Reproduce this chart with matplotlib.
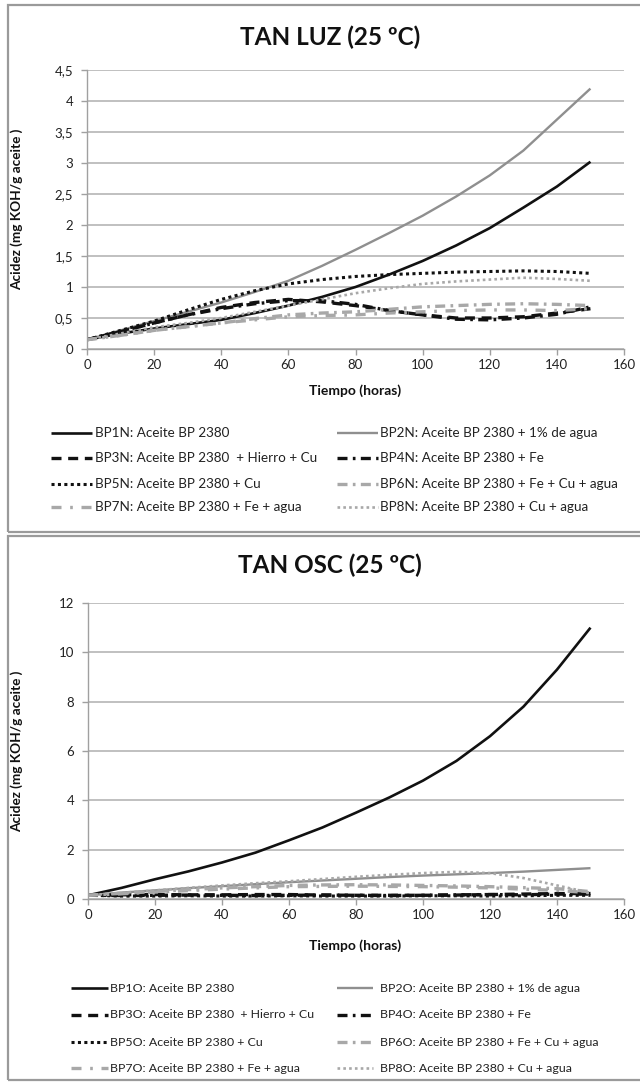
import matplotlib
matplotlib.use("Agg")
import matplotlib.pyplot as plt
from matplotlib.lines import Line2D
from matplotlib.patches import Rectangle

plt.rcParams['font.family'] = ['Lato', 'DejaVu Sans']

# Time axis (hours)
horas = [0, 10, 20, 30, 40, 50, 60, 70, 80, 90, 100, 110, 120, 130, 140, 150]

# TAN under light (mg KOH/g)
bp1n = [0.15, 0.25, 0.33, 0.40, 0.47, 0.58, 0.70, 0.84, 1.00, 1.20, 1.42, 1.67, 1.95, 2.28, 2.62, 3.02]
bp2n = [0.15, 0.30, 0.45, 0.60, 0.75, 0.92, 1.10, 1.34, 1.60, 1.87, 2.15, 2.46, 2.80, 3.20, 3.70, 4.20]
bp3n = [0.15, 0.28, 0.42, 0.55, 0.67, 0.75, 0.80, 0.76, 0.70, 0.62, 0.55, 0.50, 0.50, 0.52, 0.58, 0.65]
bp4n = [0.15, 0.28, 0.42, 0.55, 0.65, 0.73, 0.78, 0.78, 0.72, 0.62, 0.55, 0.48, 0.47, 0.50, 0.56, 0.68]
bp5n = [0.15, 0.30, 0.45, 0.63, 0.80, 0.94, 1.05, 1.12, 1.17, 1.20, 1.22, 1.24, 1.25, 1.26, 1.25, 1.22]
bp6n = [0.15, 0.22, 0.30, 0.36, 0.42, 0.49, 0.55, 0.58, 0.60, 0.64, 0.68, 0.70, 0.72, 0.73, 0.72, 0.70]
bp7n = [0.15, 0.22, 0.30, 0.36, 0.42, 0.47, 0.52, 0.54, 0.55, 0.58, 0.60, 0.62, 0.63, 0.63, 0.62, 0.65]
bp8n = [0.15, 0.25, 0.35, 0.42, 0.50, 0.60, 0.70, 0.80, 0.90, 0.98, 1.05, 1.09, 1.12, 1.15, 1.13, 1.10]

# TAN in darkness (mg KOH/g)
bp1o = [0.15, 0.45, 0.80, 1.12, 1.48, 1.88, 2.38, 2.90, 3.50, 4.12, 4.80, 5.60, 6.60, 7.80, 9.30, 11.00]
bp2o = [0.15, 0.26, 0.35, 0.44, 0.52, 0.60, 0.68, 0.75, 0.82, 0.89, 0.95, 1.00, 1.05, 1.11, 1.18, 1.25]
bp3o = [0.15, 0.17, 0.18, 0.17, 0.17, 0.18, 0.18, 0.16, 0.15, 0.15, 0.15, 0.16, 0.18, 0.20, 0.22, 0.22]
bp4o = [0.15, 0.14, 0.15, 0.16, 0.15, 0.14, 0.15, 0.16, 0.15, 0.14, 0.15, 0.17, 0.18, 0.17, 0.20, 0.20]
bp5o = [0.15, 0.12, 0.12, 0.13, 0.12, 0.12, 0.13, 0.12, 0.12, 0.12, 0.13, 0.13, 0.12, 0.13, 0.15, 0.15]
bp6o = [0.15, 0.23, 0.30, 0.38, 0.45, 0.50, 0.55, 0.57, 0.58, 0.57, 0.55, 0.53, 0.50, 0.46, 0.42, 0.30]
bp7o = [0.15, 0.21, 0.28, 0.34, 0.40, 0.45, 0.50, 0.51, 0.52, 0.51, 0.50, 0.48, 0.45, 0.40, 0.35, 0.25]
bp8o = [0.15, 0.25, 0.35, 0.45, 0.55, 0.64, 0.72, 0.81, 0.90, 0.98, 1.05, 1.10, 1.05, 0.85, 0.55, 0.25]

etiquetas_luz = [
    "BP1N: Aceite BP 2380", "BP2N: Aceite BP 2380 + 1% de agua",
    "BP3N: Aceite BP 2380  + Hierro + Cu", "BP4N: Aceite BP 2380 + Fe",
    "BP5N: Aceite BP 2380 + Cu", "BP6N: Aceite BP 2380 + Fe + Cu + agua",
    "BP7N: Aceite BP 2380 + Fe + agua", "BP8N: Aceite BP 2380 + Cu + agua",
]
etiquetas_osc = [
    "BP1O: Aceite BP 2380", "BP2O: Aceite BP 2380 + 1% de agua",
    "BP3O: Aceite BP 2380  + Hierro + Cu", "BP4O: Aceite BP 2380 + Fe",
    "BP5O: Aceite BP 2380 + Cu", "BP6O: Aceite BP 2380 + Fe + Cu + agua",
    "BP7O: Aceite BP 2380 + Fe + agua", "BP8O: Aceite BP 2380 + Cu + agua",
]

ticks_luz = [0, 0.5, 1, 1.5, 2, 2.5, 3, 3.5, 4, 4.5]
ticks_luz_txt = ["0", "0,5", "1", "1,5", "2", "2,5", "3", "3,5", "4", "4,5"]
ticks_osc = [0, 2, 4, 6, 8, 10, 12]
ticks_osc_txt = ["0", "2", "4", "6", "8", "10", "12"]
ticks_x = [0, 20, 40, 60, 80, 100, 120, 140, 160]

NEGRO = "#111111"
GRIS = "#8f8f8f"
GRIS_CLARO = "#a8a8a8"

estilos = [
    dict(color=NEGRO, lw=1.9, ls="-"),
    dict(color=GRIS, lw=1.7, ls="-"),
    dict(color=NEGRO, lw=2.4, ls=(0, (3.0, 2.0))),
    dict(color=NEGRO, lw=2.4, ls=(0, (3.0, 1.6, 0.8, 1.6))),
    dict(color=NEGRO, lw=2.2, ls=(0, (1.0, 1.1))),
    dict(color=GRIS_CLARO, lw=2.4, ls=(0, (3.0, 1.6, 0.8, 1.6))),
    dict(color=GRIS_CLARO, lw=2.4, ls=(0, (3.0, 2.6, 0.8, 2.6))),
    dict(color=GRIS_CLARO, lw=1.9, ls=(0, (1.0, 1.2))),
]

W, H = 640, 1085
fig = plt.figure(figsize=(W / 100, H / 100), dpi=100)


def fx(px):
    return px / W


def fy(py):
    return 1 - py / H


def panel(top, bottom, titulo, y_title, ax_box, series, etiquetas,
          yt, yt_txt, ymax, y_xlabel, ley_rows, ley_x, ley_size):
    fig.add_artist(Rectangle((fx(8), fy(bottom)), fx(640 - 8) + 0.01, fy(top) - fy(bottom),
                             transform=fig.transFigure, fill=False,
                             edgecolor="#9a9a9a", lw=1.6))
    fig.text(fx(330), fy(y_title), titulo, ha="center", va="center",
             fontsize=17.5, fontweight="bold", color="#111111")
    x0, x1, yb, yt_px = ax_box
    ax = fig.add_axes([fx(x0), fy(yb), fx(x1 - x0), fy(yt_px) - fy(yb)])
    for vals, st in zip(series, estilos):
        ax.plot(horas, vals, solid_capstyle="butt", dash_capstyle="butt", **st)
    ax.set_xlim(0, 160)
    ax.set_ylim(0, ymax)
    ax.set_xticks(ticks_x)
    ax.set_xticklabels([str(t) for t in ticks_x])
    ax.set_yticks(yt)
    ax.set_yticklabels(yt_txt)
    ax.yaxis.grid(True, color="#b5b5b5", lw=1.2)
    ax.set_axisbelow(True)
    for s in ("top", "right"):
        ax.spines[s].set_visible(False)
    for s in ("left", "bottom"):
        ax.spines[s].set_color("#a0a0a0")
        ax.spines[s].set_linewidth(1.0)
    ax.tick_params(axis="both", colors="#a0a0a0", labelcolor="#222222",
                   labelsize=9.5, length=4, width=1.0)
    ax.tick_params(axis="y", pad=6)
    fig.text(fx(355), fy(y_xlabel), "Tiempo (horas)", ha="center", va="center",
             fontsize=10, fontweight="bold", color="#111111")
    fig.text(fx(17), fy((yb + yt_px) / 2), "Acidez (mg KOH/g aceite )", rotation=90,
             ha="center", va="center", fontsize=9.8, fontweight="bold", color="#111111")
    # legend, two columns
    for i, (lab, st) in enumerate(zip(etiquetas, estilos)):
        row, col = divmod(i, 2)
        hx0, hx1, tx = ley_x[col]
        yy = fy(ley_rows[row])
        fig.add_artist(Line2D([fx(hx0), fx(hx1)], [yy, yy], transform=fig.transFigure,
                              solid_capstyle="butt", dash_capstyle="butt", **st))
        fig.text(fx(tx), yy, lab, ha="left", va="center", fontsize=ley_size, color="#222222")
    return ax


panel(5, 532, "TAN LUZ (25 ºC)", 37, (87, 624, 349, 70),
      [bp1n, bp2n, bp3n, bp4n, bp5n, bp6n, bp7n, bp8n], etiquetas_luz,
      ticks_luz, ticks_luz_txt, 4.5, 391, [433, 458, 484, 507],
      [(51, 92, 95), (337, 378, 380)], 9.7)

panel(536, 1080, "TAN OSC (25 ºC)", 565, (88, 624, 899, 603),
      [bp1o, bp2o, bp3o, bp4o, bp5o, bp6o, bp7o, bp8o], etiquetas_osc,
      ticks_osc, ticks_osc_txt, 12, 946, [988, 1015, 1042, 1068],
      [(71, 108, 110), (337, 373, 380)], 8.9)

fig.savefig("out.png", dpi=100, facecolor="white")
